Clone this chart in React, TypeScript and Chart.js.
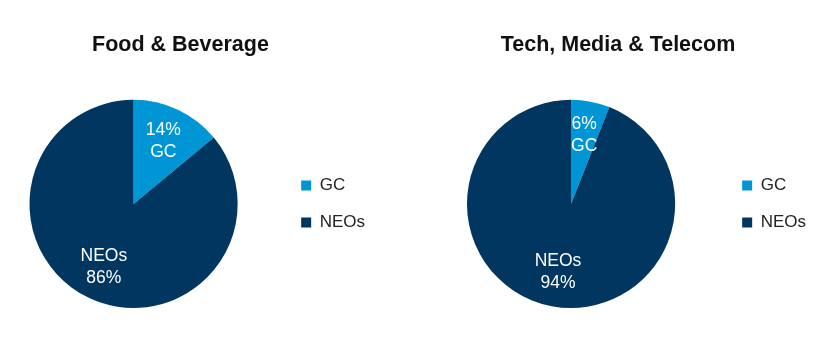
import React, { useEffect, useRef } from "react";
import { Chart, registerables } from "chart.js";

Chart.register(...registerables);

const categories = ["GC", "NEOs"];
const foodBeverageShares = [14, 86];
const techMediaTelecomShares = [6, 94];
const panelTitles = ["Food & Beverage", "Tech, Media & Telecom"];
const sliceColors = ["#0096D6", "#00365F"];

const FONT = "'Liberation Sans', Arial, Helvetica, sans-serif";

const sliceLabelPlugin = {
  id: "sliceLabels",
  afterDatasetsDraw(chart: any) {
    const ctx = chart.ctx;
    const meta = chart.getDatasetMeta(0);
    const data = chart.data.datasets[0].data;
    const labels = chart.data.labels;
    ctx.save();
    ctx.font = `17.5px ${FONT}`;
    ctx.fillStyle = "#ffffff";
    ctx.textAlign = "center";
    ctx.textBaseline = "middle";
    meta.data.forEach((arc: any, i: number) => {
      const p = arc.getProps(["x", "y", "startAngle", "endAngle", "outerRadius"], true);
      const mid = (p.startAngle + p.endAngle) / 2;
      const d = p.outerRadius * 0.67;
      const x = p.x + Math.cos(mid) * d;
      const y = p.y + Math.sin(mid) * d;
      const pct = `${data[i]}%`;
      const lines = i === 0 ? [pct, labels[i]] : [labels[i], pct];
      ctx.fillText(lines[0], x, y - 11);
      ctx.fillText(lines[1], x, y + 11);
    });
    ctx.restore();
  },
};

function PiePanel({ title, values, left, width }: { title: string; values: number[]; left: number; width: number }) {
  const ref = useRef<HTMLCanvasElement | null>(null);
  useEffect(() => {
    if (!ref.current) return;
    const chart = new Chart(ref.current, {
      type: "pie",
      data: {
        labels: categories,
        datasets: [
          {
            data: values,
            backgroundColor: sliceColors,
            borderWidth: 0,
          },
        ],
      },
      options: {
        responsive: false,
        animation: false,
        events: [],
        layout: { padding: { top: 32, bottom: 52, left: 0, right: 0 } },
        plugins: {
          title: {
            display: true,
            text: title,
            color: "#111111",
            font: { family: FONT, size: 21.5, weight: "bold", lineHeight: 1.2 },
            padding: { top: 0, bottom: 42 },
          },
          legend: {
            display: true,
            position: "right",
            align: "center",
            fullSize: false,
            labels: {
              boxWidth: 10,
              boxHeight: 10,
              padding: 20,
              color: "#222222",
              font: { family: FONT, size: 17 },
            },
          },
          tooltip: { enabled: false },
        },
      },
      plugins: [sliceLabelPlugin],
    } as any);
    return () => chart.destroy();
  }, [title, values]);
  return (
    <canvas
      ref={ref}
      width={width}
      height={360}
      style={{ position: "absolute", left, top: 0, width, height: 360 }}
    />
  );
}

export default function App() {
  return (
    <div
      style={{
        position: "absolute",
        left: 0,
        top: 0,
        width: 840,
        height: 360,
        overflow: "hidden",
        background: "#ffffff",
      }}
    >
      <PiePanel title={panelTitles[0]} values={foodBeverageShares} left={-14} width={389} />
      <PiePanel title={panelTitles[1]} values={techMediaTelecomShares} left={420} width={396} />
    </div>
  );
}
